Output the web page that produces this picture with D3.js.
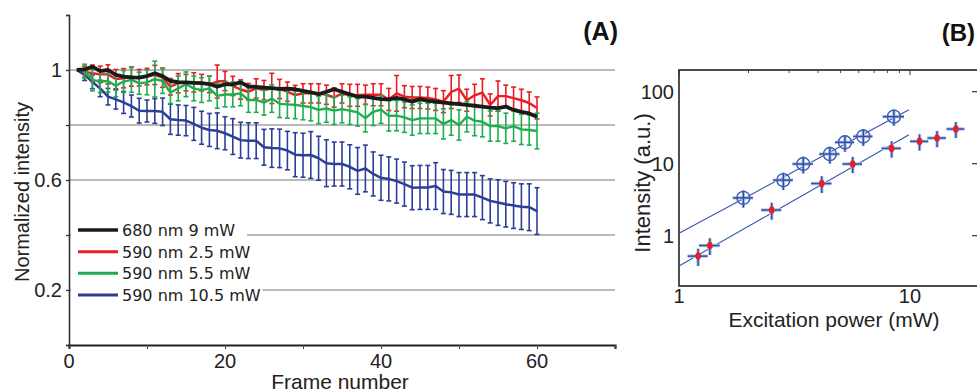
<!DOCTYPE html>
<html>
<head>
<meta charset="utf-8">
<script src="https://cdn.jsdelivr.net/npm/d3@7"></script>
<style>
  body { margin: 0; background: #fff; }
  svg { display: block; }
</style>
</head>
<body>
<div id="chart"></div>
<script>
// ---- panel A data ----
const frames = d3.range(1, 61);
const legendLabels = ["680 nm 9 mW", "590 nm 2.5 mW", "590 nm 5.5 mW", "590 nm 10.5 mW"];

const black680 = [1.0, 1.002, 1.012, 0.996, 1.0, 0.982, 0.976, 0.973, 0.972, 0.978, 0.988, 0.978, 0.960, 0.956, 0.955, 0.953, 0.952, 0.949, 0.939, 0.948,
  0.948, 0.955, 0.940, 0.939, 0.936, 0.934, 0.931, 0.932, 0.930, 0.924, 0.919, 0.912, 0.921, 0.930, 0.921, 0.912, 0.903, 0.903, 0.899, 0.894,
  0.893, 0.899, 0.893, 0.885, 0.894, 0.888, 0.885, 0.881, 0.879, 0.876, 0.873, 0.870, 0.867, 0.863, 0.861, 0.867, 0.855, 0.848, 0.842, 0.830];

const red25 = [1.0, 0.994, 0.988, 0.984, 0.984, 0.967, 0.970, 0.976, 0.972, 0.976, 0.982, 0.972, 0.939, 0.952, 0.954, 0.955, 0.954, 0.948, 0.958, 0.960,
  0.942, 0.929, 0.921, 0.933, 0.927, 0.933, 0.931, 0.921, 0.909, 0.915, 0.915, 0.915, 0.910, 0.900, 0.915, 0.908, 0.908, 0.910, 0.910, 0.910,
  0.893, 0.915, 0.903, 0.900, 0.900, 0.898, 0.893, 0.885, 0.920, 0.932, 0.890, 0.908, 0.918, 0.873, 0.905, 0.905, 0.898, 0.890, 0.880, 0.862];
const red25Err = [0, 0.02, 0.03, 0.03, 0.035, 0.035, 0.035, 0.035, 0.03, 0.03, 0.035, 0.035, 0.03, 0.035, 0.03, 0.035, 0.03, 0.03, 0.06, 0.035,
  0.035, 0.035, 0.03, 0.035, 0.035, 0.055, 0.035, 0.035, 0.035, 0.035, 0.035, 0.035, 0.035, 0.035, 0.035, 0.04, 0.04, 0.035, 0.04, 0.04,
  0.04, 0.065, 0.04, 0.04, 0.04, 0.04, 0.04, 0.04, 0.06, 0.05, 0.04, 0.04, 0.05, 0.04, 0.055, 0.04, 0.04, 0.04, 0.04, 0.04];

const green55 = [1.0, 0.996, 0.964, 0.958, 0.960, 0.943, 0.958, 0.964, 0.952, 0.955, 0.967, 0.960, 0.918, 0.933, 0.948, 0.933, 0.927, 0.933, 0.906, 0.911,
  0.911, 0.915, 0.891, 0.891, 0.881, 0.896, 0.877, 0.875, 0.873, 0.869, 0.865, 0.855, 0.860, 0.852, 0.858, 0.852, 0.846, 0.825, 0.848, 0.856,
  0.833, 0.834, 0.828, 0.818, 0.824, 0.824, 0.824, 0.804, 0.818, 0.800, 0.830, 0.816, 0.812, 0.796, 0.796, 0.788, 0.796, 0.784, 0.782, 0.778];
const green55Err = [0, 0.025, 0.04, 0.04, 0.04, 0.04, 0.04, 0.045, 0.04, 0.045, 0.065, 0.045, 0.04, 0.045, 0.045, 0.045, 0.045, 0.045, 0.045, 0.045,
  0.045, 0.045, 0.045, 0.045, 0.045, 0.05, 0.05, 0.05, 0.05, 0.05, 0.05, 0.05, 0.05, 0.05, 0.05, 0.05, 0.05, 0.05, 0.05, 0.05,
  0.055, 0.055, 0.055, 0.055, 0.055, 0.055, 0.055, 0.055, 0.055, 0.055, 0.055, 0.055, 0.055, 0.055, 0.055, 0.055, 0.055, 0.055, 0.055, 0.065];

const blue105 = [1.0, 0.982, 0.957, 0.933, 0.903, 0.893, 0.882, 0.869, 0.852, 0.851, 0.851, 0.848, 0.821, 0.818, 0.816, 0.804, 0.790, 0.782, 0.779, 0.770,
  0.758, 0.745, 0.743, 0.743, 0.719, 0.716, 0.715, 0.707, 0.692, 0.690, 0.691, 0.679, 0.661, 0.658, 0.658, 0.648, 0.633, 0.642, 0.622, 0.608,
  0.604, 0.596, 0.585, 0.572, 0.573, 0.573, 0.578, 0.558, 0.555, 0.547, 0.547, 0.547, 0.536, 0.524, 0.518, 0.512, 0.507, 0.503, 0.501, 0.487];
const blue105Err = [0, 0.02, 0.025, 0.03, 0.03, 0.035, 0.04, 0.04, 0.045, 0.04, 0.045, 0.05, 0.055, 0.055, 0.055, 0.06, 0.06, 0.06, 0.065, 0.06,
  0.065, 0.065, 0.065, 0.065, 0.065, 0.07, 0.07, 0.07, 0.08, 0.08, 0.085, 0.08, 0.085, 0.08, 0.08, 0.08, 0.085, 0.085, 0.08, 0.082,
  0.08, 0.08, 0.08, 0.08, 0.08, 0.08, 0.085, 0.08, 0.08, 0.08, 0.08, 0.08, 0.08, 0.08, 0.083, 0.083, 0.083, 0.083, 0.085, 0.085];

const yTicksA = [0, 0.2, 0.4, 0.6, 0.8, 1, 1.2];
const yLabelsA = [0.2, 0.6, 1];
const gridA = [0.2, 0.4, 0.6, 0.8, 1];
const xTicksA = [0, 10, 20, 30, 40, 50, 60, 70];
const xLabelsA = [0, 20, 40, 60];

// ---- panel B data ----  [power mW, intensity, xErr, yErr]
const openCircles = [[1.90, 3.35, 0.19, 0.9], [2.83, 5.9, 0.28, 1.6], [3.45, 9.9, 0.35, 2.6], [4.5, 13.6, 0.45, 3.6],
  [5.23, 19.8, 0.5, 5.2], [6.28, 23.9, 0.6, 6.2], [8.52, 45, 0.9, 11.5]];
const redDots = [[1.21, 0.52, 0.12, 0.14], [1.36, 0.73, 0.14, 0.19], [2.52, 2.27, 0.25, 0.6], [4.15, 5.3, 0.42, 1.4],
  [5.65, 9.9, 0.55, 2.5], [8.33, 16.3, 0.8, 4.2], [11.0, 20.4, 1.0, 5.2], [13.1, 22.7, 1.2, 5.8], [15.8, 30.3, 1.4, 7.5]];
const fitCircles = [[1, 1.08], [9.9, 56]];
const fitDots = [[1, 0.38], [9.9, 25.3]];
const yTicksB = [1, 10, 100];
const xTicksB = [1, 10];
const xMinorB = [2, 3, 4, 5, 6, 7, 8, 9, 20];

const W = 977, H = 392;
const svg = d3.select("#chart").append("svg")
  .attr("width", W)
  .attr("height", H)
  .attr("viewBox", [0, 0, W, H]);

const axisFont = "'Liberation Sans', Arial, sans-serif";

// ================= panel A =================
var x = d3.scaleLinear().domain([0, 70]).range([69, 615]);
var y = d3.scaleLinear().domain([0, 1.2]).range([345, 15]);

// gridlines
svg.append("g")
  .selectAll("line")
  .data(gridA)
  .join("line")
  .attr("x1", x(0)).attr("x2", x(70))
  .attr("y1", d => y(d)).attr("y2", d => y(d))
  .attr("stroke", "#a3a3a3")
  .attr("stroke-width", 1.3);

// legend backgrounds hide the grid behind them
const legend = svg.append("g");
const rowY = d3.scaleLinear().domain([0, 3]).range([230, 295]);

// y axis
var yAxis = svg.append("g")
  .attr("transform", "translate(" + x(0) + ",0)")
  .call(d3.axisLeft(y).tickValues(yTicksA).tickSize(3).tickFormat(""));
yAxis.select(".domain").attr("stroke", "#333").attr("stroke-width", 1.6);
yAxis.selectAll(".tick line").attr("stroke", "#333").attr("stroke-width", 1.3);

svg.append("g")
  .selectAll("text")
  .data(yLabelsA)
  .join("text")
  .attr("x", 62)
  .attr("y", d => y(d) + 7)
  .attr("text-anchor", "end")
  .style("font-family", axisFont)
  .style("font-size", "20px")
  .attr("fill", "#222")
  .text(d => d);

// x axis
var xAxis = svg.append("g")
  .attr("transform", "translate(0," + y(0) + ")")
  .call(d3.axisBottom(x).tickValues(xTicksA).tickSize(4).tickFormat(""));
xAxis.select(".domain").attr("stroke", "#222").attr("stroke-width", 2.2);
xAxis.selectAll(".tick line").attr("stroke", "#444").attr("stroke-width", 1);

svg.append("g")
  .selectAll("text")
  .data(xLabelsA)
  .join("text")
  .attr("x", d => x(d))
  .attr("y", 368)
  .attr("text-anchor", "middle")
  .style("font-family", axisFont)
  .style("font-size", "20px")
  .attr("fill", "#222")
  .text(d => d);

svg.append("text")
  .attr("x", 340)
  .attr("y", 389)
  .attr("text-anchor", "middle")
  .style("font-family", axisFont)
  .style("font-size", "21px")
  .attr("fill", "#222")
  .text("Frame number");

svg.append("text")
  .attr("transform", "translate(29,192)rotate(-90)")
  .attr("text-anchor", "middle")
  .style("font-family", axisFont)
  .style("font-size", "20px")
  .attr("fill", "#222")
  .text("Normalized intensity");

svg.append("text")
  .attr("x", 618)
  .attr("y", 40)
  .attr("text-anchor", "end")
  .style("font-family", axisFont)
  .style("font-size", "25px")
  .style("font-weight", "bold")
  .attr("fill", "#111")
  .text("(A)");

// series
const seriesA = [
  { name: legendLabels[3], values: blue105, err: blue105Err, color: "#2c3f98", width: 2.5 },
  { name: legendLabels[1], values: red25, err: red25Err, color: "#ec1c24", width: 2.4 },
  { name: legendLabels[2], values: green55, err: green55Err, color: "#1dae4f", width: 2.4 },
  { name: legendLabels[0], values: black680, err: null, color: "#1a1a1a", width: 3.8 }
];

var line = d3.line()
  .x((d, i) => x(frames[i]))
  .y(d => y(d));

seriesA.forEach(function (s) {
  if (s.err) {
    var bars = svg.append("g")
      .attr("stroke", s.color)
      .attr("stroke-width", 1.6)
      .selectAll("g")
      .data(frames.filter((f, i) => s.err[i] > 0))
      .join("g");
    bars.append("line")
      .attr("x1", f => x(f)).attr("x2", f => x(f))
      .attr("y1", f => y(s.values[f - 1] + s.err[f - 1]))
      .attr("y2", f => y(s.values[f - 1] - s.err[f - 1]));
    bars.append("line")
      .attr("x1", f => x(f) - 2.5).attr("x2", f => x(f) + 2.5)
      .attr("y1", f => y(s.values[f - 1] + s.err[f - 1]))
      .attr("y2", f => y(s.values[f - 1] + s.err[f - 1]));
    bars.append("line")
      .attr("x1", f => x(f) - 2.5).attr("x2", f => x(f) + 2.5)
      .attr("y1", f => y(s.values[f - 1] - s.err[f - 1]))
      .attr("y2", f => y(s.values[f - 1] - s.err[f - 1]));
  }
  svg.append("path")
    .datum(s.values)
    .attr("d", line)
    .attr("fill", "none")
    .attr("stroke", s.color)
    .attr("stroke-width", s.width)
    .attr("stroke-linejoin", "round");
});

// legend
const legendColors = ["#1a1a1a", "#ec1c24", "#1dae4f", "#2c3f98"];
legendLabels.forEach(function (label, i) {
  var row = legend.append("g");
  var bg = row.append("rect").attr("fill", "#fff");
  row.append("line")
    .attr("x1", 78).attr("x2", 118)
    .attr("y1", rowY(i)).attr("y2", rowY(i))
    .attr("stroke", legendColors[i])
    .attr("stroke-width", i === 0 ? 3.6 : 3);
  var t = row.append("text")
    .attr("x", 122)
    .attr("y", rowY(i) + 6)
    .style("font-family", "'DejaVu Sans', Verdana, sans-serif")
    .style("font-size", "16px")
    .attr("fill", "#222")
    .text(label);
  var bb = t.node().getBBox();
  bg.attr("x", 71).attr("y", rowY(i) - 11)
    .attr("width", Math.max(bb.x + bb.width + 2, 247) - 71)
    .attr("height", 22);
});

// ================= panel B =================
var xb = d3.scaleLog().domain([1, 20]).range([679, 979.5]);
var yb = d3.scaleLog().domain([0.2, 200]).range([286, 70]);

// frame
svg.append("rect")
  .attr("x", xb(1)).attr("y", yb(200))
  .attr("width", xb(20) - xb(1)).attr("height", yb(0.2) - yb(200))
  .attr("fill", "none")
  .attr("stroke", "#222")
  .attr("stroke-width", 1.6);

// inward ticks
svg.append("g")
  .selectAll("line")
  .data(xMinorB)
  .join("line")
  .attr("x1", d => xb(d)).attr("x2", d => xb(d))
  .attr("y1", yb(200)).attr("y2", yb(200) + 3)
  .attr("stroke", "#444").attr("stroke-width", 1);
svg.append("g")
  .selectAll("line")
  .data(xTicksB)
  .join("line")
  .attr("x1", d => xb(d)).attr("x2", d => xb(d))
  .attr("y1", yb(200)).attr("y2", yb(200) + 5)
  .attr("stroke", "#333").attr("stroke-width", 1);
svg.append("g")
  .selectAll("line")
  .data(yTicksB)
  .join("line")
  .attr("x1", 972).attr("x2", 977)
  .attr("y1", d => yb(d)).attr("y2", d => yb(d))
  .attr("stroke", "#333").attr("stroke-width", 1.2);

svg.append("g")
  .selectAll("text")
  .data(yTicksB)
  .join("text")
  .attr("x", 674)
  .attr("y", d => yb(d) + 7)
  .attr("text-anchor", "end")
  .style("font-family", axisFont)
  .style("font-size", "20px")
  .attr("fill", "#222")
  .text(d => d);

svg.append("g")
  .selectAll("text")
  .data(xTicksB)
  .join("text")
  .attr("x", d => xb(d))
  .attr("y", 303)
  .attr("text-anchor", "middle")
  .style("font-family", axisFont)
  .style("font-size", "20px")
  .attr("fill", "#222")
  .text(d => d);

svg.append("text")
  .attr("x", 834)
  .attr("y", 327)
  .attr("text-anchor", "middle")
  .style("font-family", axisFont)
  .style("font-size", "21px")
  .attr("fill", "#222")
  .text("Excitation power (mW)");

svg.append("text")
  .attr("transform", "translate(650,183)rotate(-90)")
  .attr("text-anchor", "middle")
  .style("font-family", axisFont)
  .style("font-size", "22px")
  .attr("fill", "#222")
  .text("Intensity (a.u.)");

svg.append("text")
  .attr("x", 975)
  .attr("y", 41)
  .attr("text-anchor", "end")
  .style("font-family", axisFont)
  .style("font-size", "24px")
  .style("font-weight", "bold")
  .attr("fill", "#111")
  .text("(B)");

// fit lines
var fit = d3.line().x(d => xb(d[0])).y(d => yb(d[1]));
[fitCircles, fitDots].forEach(function (f) {
  svg.append("path")
    .datum(f)
    .attr("d", fit)
    .attr("fill", "none")
    .attr("stroke", "#3556b0")
    .attr("stroke-width", 1.1);
});

function crosses(data) {
  var g = svg.append("g").selectAll("g").data(data).join("g");
  [["#b7c4e6", 3.5], ["#2d4ea8", 1.5]].forEach(function (st) {
    g.append("line")
      .attr("x1", d => xb(d[0] - d[2])).attr("x2", d => xb(d[0] + d[2]))
      .attr("y1", d => yb(d[1])).attr("y2", d => yb(d[1]))
      .attr("stroke", st[0]).attr("stroke-width", st[1]);
    g.append("line")
      .attr("x1", d => xb(d[0])).attr("x2", d => xb(d[0]))
      .attr("y1", d => yb(d[1] - d[3])).attr("y2", d => yb(d[1] + d[3]))
      .attr("stroke", st[0]).attr("stroke-width", st[1]);
  });
  return g;
}

crosses(openCircles).append("circle")
  .attr("cx", d => xb(d[0])).attr("cy", d => yb(d[1]))
  .attr("r", 6.5)
  .attr("fill", "none")
  .attr("stroke", "#3a5cb4")
  .attr("stroke-width", 1.4);

crosses(redDots).append("ellipse")
  .attr("cx", d => xb(d[0])).attr("cy", d => yb(d[1]))
  .attr("rx", 2.8).attr("ry", 3.8)
  .attr("fill", "#e3202c");
</script>
</body>
</html>
